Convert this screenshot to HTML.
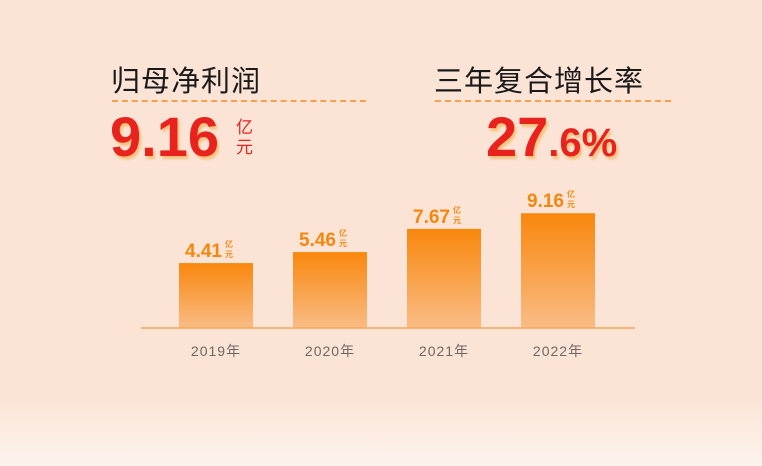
<!DOCTYPE html>
<html><head><meta charset="utf-8"><style>
html,body{margin:0;padding:0}
body{width:762px;height:466px;overflow:hidden;background:linear-gradient(180deg,#fbe4d6 0%,#fbe4d6 85%,#fdf3ec 100%);font-family:"Liberation Sans","Noto Sans CJK SC",sans-serif;position:relative}
.t{position:absolute;font-size:29px;color:#1a1a1a;top:58px;letter-spacing:1px}
.dash{position:absolute;top:100px;height:0;border-top:2px dashed #f5a04a}
.big{position:absolute;color:#e8221c;font-weight:bold;text-shadow:2px 3px 2px rgba(245,170,60,.6)}
</style></head><body>
<div class="t" style="left:111px">归母净利润</div>
<div class="dash" style="left:112px;width:254px"></div>
<div class="t" style="left:434px">三年复合增长率</div>
<div class="dash" style="left:435px;width:236px"></div>
<div class="big" style="left:110px;top:104px;font-size:56px">9.16</div>
<div style="position:absolute;left:236px;top:118px;color:#e8221c;font-size:17px;line-height:20px;width:18px">亿<br>元</div>
<div class="big" style="left:486px;top:104px;font-size:56px">27<span style="font-size:40px">.6%</span></div>
<svg id="chart" width="762" height="466" style="position:absolute;left:0;top:0">
<defs><linearGradient id="g" x1="0" y1="0" x2="0" y2="1"><stop offset="0" stop-color="#f9870c"/><stop offset="1" stop-color="#f9bc86"/></linearGradient></defs>
</svg>
<script>
const categories=["2019年","2020年","2021年","2022年"];
const values=[4.41,5.46,7.67,9.16];
const labels=["4.41","5.46","7.67","9.16"];
const svg=document.getElementById('chart');
const NS='http://www.w3.org/2000/svg';
const baseY=328,left=141,right=635,bw=74;
function x(i){return 179+i*114;}
function h(v){return 18.6+10.5*v;}
const base=document.createElementNS(NS,'line');


base.setAttribute('x1',left);base.setAttribute('x2',right);base.setAttribute('y1',baseY);base.setAttribute('y2',baseY);
base.setAttribute('stroke','#f7a556');base.setAttribute('stroke-width','1.5');
values.forEach((v,i)=>{
 const r=document.createElementNS(NS,'rect');
 
 
 r.setAttribute('x',x(i));r.setAttribute('y',baseY-h(v));r.setAttribute('width',bw);r.setAttribute('height',h(v));r.setAttribute('fill','url(#g)');
 svg.appendChild(r);
 const t=document.createElementNS(NS,'text');
 
 
 t.setAttribute('x',x(i)+bw/2+6);t.setAttribute('y',baseY-h(v)-6);t.setAttribute('text-anchor','end');
 t.setAttribute('fill','#f5870f');t.setAttribute('font-size','19');t.setAttribute('font-weight','bold');
 t.textContent=labels[i];svg.appendChild(t);
 const u1=document.createElementNS(NS,'text');
 
 
 u1.setAttribute('x',x(i)+bw/2+9);u1.setAttribute('y',baseY-h(v)-16);u1.setAttribute('fill','#f5870f');u1.setAttribute('font-size','8');u1.setAttribute('font-weight','bold');
 u1.textContent='亿';svg.appendChild(u1);
 const u2=document.createElementNS(NS,'text');
 
 
 u2.setAttribute('x',x(i)+bw/2+9);u2.setAttribute('y',baseY-h(v)-6);u2.setAttribute('fill','#f5870f');u2.setAttribute('font-size','8');u2.setAttribute('font-weight','bold');
 u2.textContent='元';svg.appendChild(u2);
 const c=document.createElementNS(NS,'text');
 
 
 c.setAttribute('x',x(i)+bw/2);c.setAttribute('y',356);c.setAttribute('text-anchor','middle');c.setAttribute('fill','#6e6864');c.setAttribute('font-size','14');c.setAttribute('letter-spacing','1');
 c.textContent=categories[i];svg.appendChild(c);
});
svg.appendChild(base);
</script>
</body></html>
